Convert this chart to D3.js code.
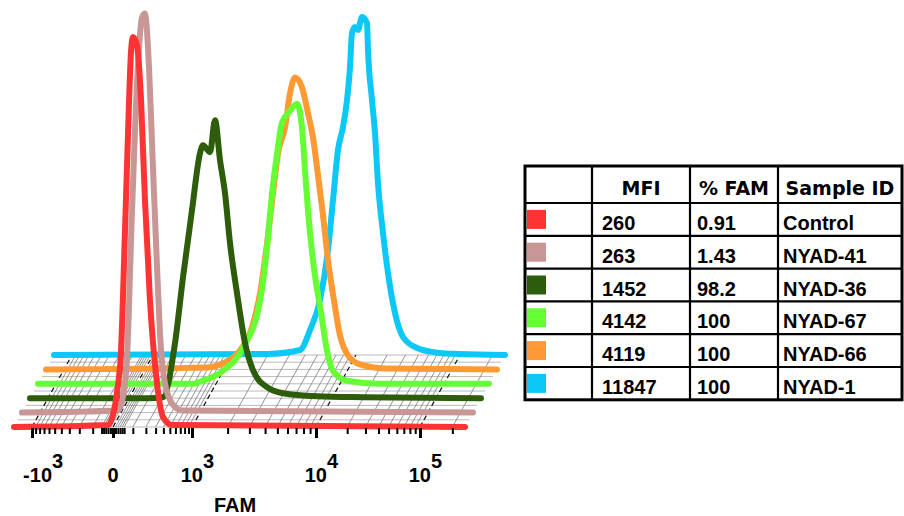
<!DOCTYPE html>
<html><head><meta charset="utf-8">
<script src="https://cdn.jsdelivr.net/npm/d3@7"></script>
<style>body{margin:0;background:#fff}svg{display:block;background:#fff}</style>
</head><body><svg id="c" width="904" height="516"></svg>
<script>
// ---------------- DATA ----------------
const sampleIds = ["Control", "NYAD-41", "NYAD-36", "NYAD-67", "NYAD-66", "NYAD-1"];
const mfiValues = ["260", "263", "1452", "4142", "4119", "11847"];
const pctFam = ["0.91", "1.43", "98.2", "100", "100", "100"];
const tableHeaders = ["", "MFI", "% FAM", "Sample ID"];

// histogram points: [FAM channel value, count (% of mode scale)]
const histControl = [[-1600,0],[-20,0.5],[30,15],[54,48.5],[71,73.5],[89,94],[101,97.5],[128,95.5],[159,81.75],[192,56.75],[239,31.75],[316,11],[395,2.5],[537,0.5],[262144,0]];
const histNyad41 = [[-1600,0],[-12,0.5],[21,10],[49,50],[77,82.5],[108,98.75],[128,99.75],[159,86.25],[192,61.25],[230,36.25],[260,19.75],[316,7.25],[409,2.25],[573,0.5],[262144,0]];
const histNyad36 = [[-1600,0],[100,0],[210,0.25],[341,13.75],[454,30.25],[611,47],[786,61.25],[861,63.25],[1041,61.5],[1151,69.5],[1270,59.5],[1400,51.25],[1543,38.75],[1764,26.25],[2054,13.75],[2385,7],[3092,2.75],[4145,1.25],[7657,0.5],[20000,0.25],[262144,0]];
const histNyad67 = [[-1600,0],[500,0],[611,0.5],[1151,3.25],[1698,9],[2342,20.75],[2667,34],[2925,47.5],[3209,57.5],[3516,65.25],[4070,68.25],[4622,70],[5060,64],[5342,53.25],[5638,43.25],[6170,30.75],[7148,17.5],[7932,8.25],[8831,3.25],[11694,0.75],[24330,0],[262144,0]];
const histNyad66 = [[-1600,0],[600,0.5],[971,1.5],[1373,4.75],[1731,10.5],[2014,19],[2299,31.5],[2570,44],[2819,54],[3208,60.5],[3516,69],[3852,73],[4376,70.5],[4880,64],[5341,58],[5844,48.5],[6395,38.5],[6996,27.25],[7786,17.25],[8670,8.5],[10000,3.5],[13069,1.25],[22773,0.25],[262144,0]];
const histNyad1 = [[-1600,0],[2000,0.25],[3647,1.25],[4376,6.25],[5244,13.75],[6057,26.25],[6627,38.75],[7250,51.25],[7929,57],[8517,63.75],[8985,72],[9312,80.5],[9825,82],[10457,81.25],[11433,84.5],[12778,83],[13068,76.25],[14286,63.75],[15270,55.5],[16320,43],[18240,30.5],[20380,20.5],[23800,10.5],[28410,4.5],[38700,1.75],[64290,0.5],[100000,0.25],[262144,0]];

const majorTicks = [-1000, 0, 1000, 10000, 100000];
const minorTicks = [-900,-800,-700,-600,-500,-400,-300,-200,-100,-50,-40,-30,-20,-10,10,20,30,40,50,
  100,200,300,400,500,600,700,800,900,2000,3000,4000,5000,6000,7000,8000,9000,
  20000,30000,40000,50000,60000,70000,80000,90000,200000];
const tickLabelValues = [-1000, 0, 1000, 10000, 100000];
const tickLabelBase = ["-10", "0", "10", "10", "10"];
const tickLabelExp = ["3", "", "3", "4", "5"];
const axisTitle = "FAM";

// ---------------- STYLE ----------------
const seriesColors = ["#ff3333", "#c99696", "#2d5c0b", "#66ff33", "#ff9933", "#0cc8f6"];
const series = [histControl, histNyad41, histNyad36, histNyad67, histNyad66, histNyad1];

const svg = d3.select("#c");
const x = d3.scaleSymlog().constant(150)
  .domain([-1600, -1000, 0, 1000, 10000, 100000, 262144])
  .range([14, 32, 113, 192, 316, 420, 465]);
const yc = d3.scaleLinear().domain([0, 100]).range([0, -400]);
const y0 = 427, stepX = 8, stepY = -14.4, nL = 6;
const depthX = stepX * (nL - 1), depthY = stepY * (nL - 1);
const xMin = x.domain()[0], xMax = x.domain()[x.domain().length - 1];

// ---------- floor grid ----------
const grid = svg.append("g");
d3.range(0, 2 * (nL - 1) + 1).forEach(j => {
  const f = j / (2 * (nL - 1));
  grid.append("line")
    .attr("x1", x(xMin) + f * depthX).attr("x2", x(xMax) + f * depthX)
    .attr("y1", y0 + f * depthY).attr("y2", y0 + f * depthY)
    .attr("stroke", "#a8a8a8").attr("stroke-width", 0.8);
});
minorTicks.forEach(t => {
  grid.append("line")
    .attr("x1", x(t)).attr("y1", y0).attr("x2", x(t) + depthX).attr("y2", y0 + depthY)
    .attr("stroke", "#7a7a7a").attr("stroke-width", 0.8);
});
majorTicks.forEach(t => {
  grid.append("line")
    .attr("x1", x(t)).attr("y1", y0).attr("x2", x(t) + depthX).attr("y2", y0 + depthY)
    .attr("stroke", "#111").attr("stroke-width", 1.2).attr("stroke-dasharray", "5,3");
});

// ---------- histogram layers ----------
const line = d3.line().x(d => x(d[0])).y(d => y0 + yc(d[1])).curve(d3.curveMonotoneX);
for (let k = nL - 1; k >= 0; k--) {
  svg.append("path")
    .datum(series[k])
    .attr("transform", `translate(${k * stepX},${k * stepY})`)
    .attr("d", line)
    .attr("fill", "none")
    .attr("stroke", seriesColors[k])
    .attr("stroke-width", 6)
    .attr("stroke-linejoin", "round")
    .attr("stroke-linecap", "round");
}

// ---------- axis ticks ----------
const axG = svg.append("g").attr("transform", `translate(0,${y0 + 1})`);
axG.call(d3.axisBottom(x).tickValues(minorTicks).tickSize(6).tickFormat(""))
  .call(g => g.select(".domain").remove())
  .call(g => g.selectAll(".tick line").attr("stroke", "#000").attr("stroke-width", 2));
const axM = svg.append("g").attr("transform", `translate(0,${y0 + 1})`);
axM.call(d3.axisBottom(x).tickValues(majorTicks).tickSize(10).tickFormat(""))
  .call(g => g.select(".domain").remove())
  .call(g => g.selectAll(".tick line").attr("stroke", "#000").attr("stroke-width", 3));

// tick labels
const lab = svg.append("g").attr("font-family", "'Liberation Sans', Arial, sans-serif")
  .attr("font-weight", "bold").attr("font-size", 20).attr("fill", "#000");
tickLabelValues.forEach((v, i) => {
  const px = x(v);
  if (tickLabelExp[i] === "") {
    lab.append("text").attr("x", px).attr("y", 482).attr("text-anchor", "middle").text(tickLabelBase[i]);
  } else {
    const half = tickLabelBase[i].startsWith("-") ? 20 : 11;
    lab.append("text").attr("x", px + half).attr("y", 482).attr("text-anchor", "end").text(tickLabelBase[i]);
    lab.append("text").attr("x", px + half).attr("y", 468).attr("text-anchor", "start").text(tickLabelExp[i]);
  }
});
lab.append("text").attr("x", 235).attr("y", 512).attr("text-anchor", "middle").text(axisTitle);

// ---------- table ----------
const tb = svg.append("g");
const tLeft = 525, tRight = 902, tTop = 166, headBottom = 203, rowH = 32.8;
const colX = [tLeft, 592, 690, 778, tRight];
const tBottom = headBottom + rowH * sampleIds.length;
tb.append("rect").attr("x", tLeft).attr("y", tTop).attr("width", tRight - tLeft).attr("height", tBottom - tTop)
  .attr("fill", "#fff").attr("stroke", "#000").attr("stroke-width", 3);
colX.slice(1, -1).forEach(cx => tb.append("line").attr("x1", cx).attr("x2", cx).attr("y1", tTop).attr("y2", tBottom)
  .attr("stroke", "#000").attr("stroke-width", 2.2));
d3.range(sampleIds.length).forEach(i => {
  const yy = headBottom + i * rowH;
  tb.append("line").attr("x1", tLeft).attr("x2", tRight).attr("y1", yy).attr("y2", yy)
    .attr("stroke", "#000").attr("stroke-width", 2.2);
});
// headers
tableHeaders.forEach((h, j) => {
  if (!h) return;
  tb.append("text").attr("x", (colX[j] + colX[j + 1]) / 2).attr("y", 195)
    .attr("text-anchor", "middle").attr("font-family", "'DejaVu Sans', Verdana, sans-serif")
    .attr("font-weight", "bold").attr("font-size", 19).text(h);
});
// rows
sampleIds.forEach((id, i) => {
  const top = headBottom + i * rowH;
  tb.append("rect").attr("x", 527).attr("y", top + rowH / 2 - 9.5).attr("width", 19).attr("height", 19)
    .attr("fill", seriesColors[i]);
  const cells = [mfiValues[i], pctFam[i], id];
  const pads = [10, 7, 5];
  cells.forEach((c, j) => {
    tb.append("text").attr("x", colX[j + 1] + pads[j]).attr("y", top + 27)
      .attr("font-family", "'Liberation Sans', Arial, sans-serif").attr("font-weight", "bold")
      .attr("font-size", 20).text(c);
  });
});
</script></body></html>
